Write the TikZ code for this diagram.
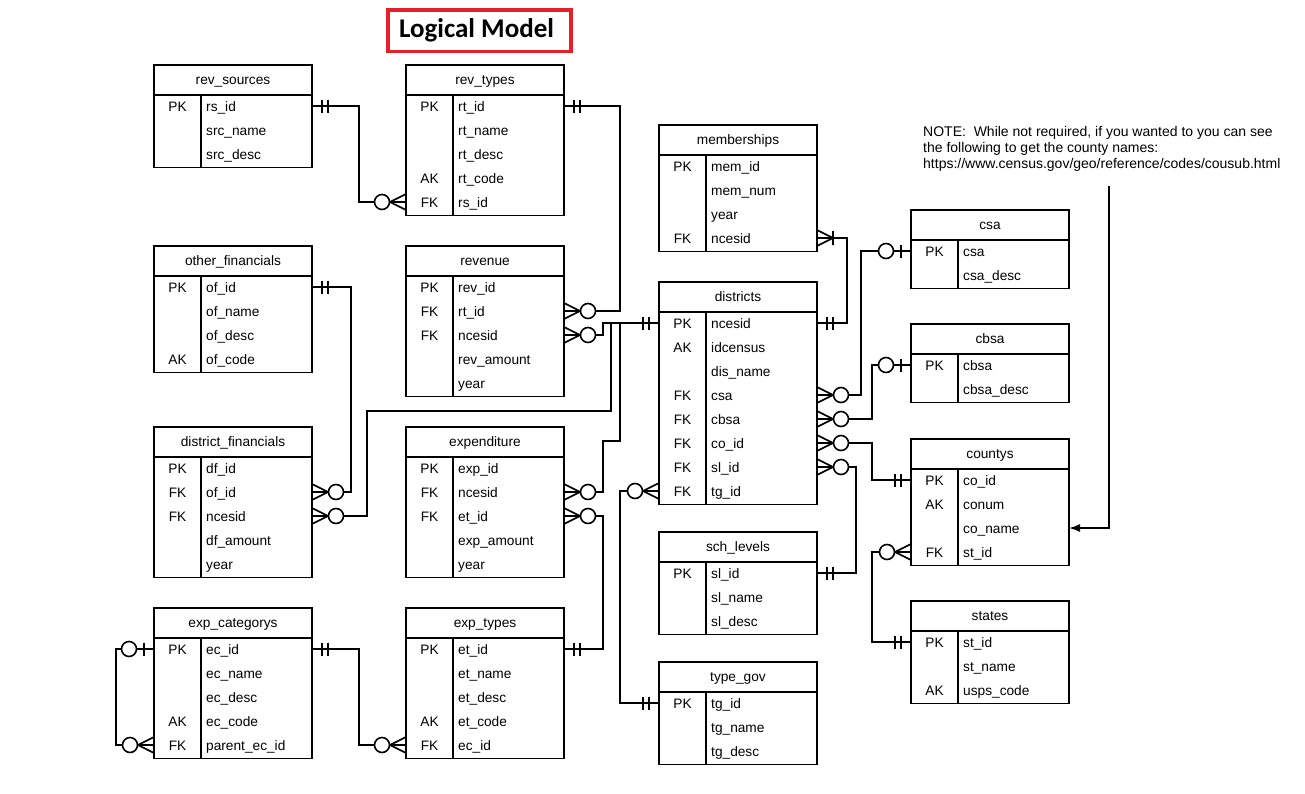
\documentclass[tikz,border=0pt]{standalone}
\usepackage{fontspec}
\setmainfont{Liberation Sans}
\newfontfamily\titlefont{Carlito}
\usetikzlibrary{arrows.meta}

\definecolor{titlered}{HTML}{E5202B}

\tikzset{
  tblline/.style={line width=1.6pt, line join=miter},
  link/.style={line width=1.6pt},
  tbltext/.style={inner sep=0pt, font=\fontsize{13.7}{16}\selectfont},
  entityhead/.style={tbltext, anchor=base},
  keycell/.style={tbltext, anchor=base},
  fieldcell/.style={tbltext, anchor=base west},
  notetext/.style={inner sep=0pt, align=left, font=\fontsize{14}{16}\selectfont},
}

% entity box: #1 id, #2 left x, #3 top y, #4 title, #5 key/field rows
\newcommand\entity[5]{%
  \node[entityhead] (#1) at (#2+79,#3+19.5) {#4};
  \foreach [count=\i] \k/\f in {#5} {
    \node[keycell] (#1-\i-k) at (#2+23.5,#3+22+24*\i) {\k};
    \node[fieldcell] (#1-\i-f) at (#2+52,#3+22+24*\i) {\f};
    \coordinate (#1-\i-w) at (#2,#3+17+24*\i);
    \coordinate (#1-\i-e) at (#2+158,#3+17+24*\i);
    \xdef\rowsn{\i}
  }
  \draw[tblline] (#2,#3) rectangle (#2+158,#3+30.5+24*\rowsn);
  \draw[tblline] (#2,#3+30) -- (#2+158,#3+30)
                 (#2+47,#3+30) -- (#2+47,#3+30.5+24*\rowsn);
}

% cardinality marks at a row end: #1 coordinate, #2 outward direction (1 or -1)
\newcommand\onlyone[2]{%
  \begin{scope}[shift={(#1)}, xscale=#2]
    \draw[link] (10,-6.5) -- (10,6.5) (16,-6.5) -- (16,6.5);
  \end{scope}}
\newcommand\zeromany[2]{%
  \begin{scope}[shift={(#1)}, xscale=#2]
    \draw[link] (0,-8) -- (16,0) -- (0,8) (0,0) -- (16,0);
    \draw[link, fill=white] (24,0) circle[radius=7.5pt];
  \end{scope}}
\newcommand\zeroone[2]{%
  \begin{scope}[shift={(#1)}, xscale=#2]
    \draw[link] (10,-6.5) -- (10,6.5);
    \draw[link, fill=white] (25,0) circle[radius=7.5pt];
  \end{scope}}
\newcommand\onemany[2]{%
  \begin{scope}[shift={(#1)}, xscale=#2]
    \draw[link] (0,-8) -- (16,0) -- (0,8) (0,0) -- (16,0) (16,-7) -- (16,7);
  \end{scope}}

\begin{document}
\begin{tikzpicture}[x=1pt, y=-1pt]
\useasboundingbox[fill=white] (0,0) rectangle (1305,793);

% title
\node[draw=titlered, line width=3.5pt, minimum width=183pt, minimum height=41.5pt,
      inner sep=0pt, font=\titlefont\bfseries\fontsize{27}{30}\selectfont]
      (title) at (479.5,30.5) {\hspace*{-6pt}Logical Model};

% entities
\entity{rsrc}{154}{65}{rev\_sources}{PK/rs\_id, /src\_name, /src\_desc}
\entity{rtyp}{406}{65}{rev\_types}{PK/rt\_id, /rt\_name, /rt\_desc, AK/rt\_code, FK/rs\_id}
\entity{ofin}{154}{246}{other\_financials}{PK/of\_id, /of\_name, /of\_desc, AK/of\_code}
\entity{rev}{406}{246}{revenue}{PK/rev\_id, FK/rt\_id, FK/ncesid, /rev\_amount, /year}
\entity{dfin}{154}{427}{district\_financials}{PK/df\_id, FK/of\_id, FK/ncesid, /df\_amount, /year}
\entity{expd}{406}{427}{expenditure}{PK/exp\_id, FK/ncesid, FK/et\_id, /exp\_amount, /year}
\entity{ecat}{154}{608}{exp\_categorys}{PK/ec\_id, /ec\_name, /ec\_desc, AK/ec\_code, FK/parent\_ec\_id}
\entity{etyp}{406}{608}{exp\_types}{PK/et\_id, /et\_name, /et\_desc, AK/et\_code, FK/ec\_id}
\entity{memb}{659}{125}{memberships}{PK/mem\_id, /mem\_num, /year, FK/ncesid}
\entity{dist}{659}{282}{districts}{PK/ncesid, AK/idcensus, /dis\_name, FK/csa, FK/cbsa, FK/co\_id, FK/sl\_id, FK/tg\_id}
\entity{csa}{911}{210}{csa}{PK/csa, /csa\_desc}
\entity{cbsa}{911}{324}{cbsa}{PK/cbsa, /cbsa\_desc}
\entity{cnty}{911}{439}{countys}{PK/co\_id, AK/conum, /co\_name, FK/st\_id}
\entity{schl}{659}{532}{sch\_levels}{PK/sl\_id, /sl\_name, /sl\_desc}
\entity{tgov}{659}{662}{type\_gov}{PK/tg\_id, /tg\_name, /tg\_desc}
\entity{stat}{911}{601}{states}{PK/st\_id, /st\_name, AK/usps\_code}

% relationships
\draw[link] (rsrc-1-e) -- ++(47,0) |- (rtyp-5-w);
\draw[link] (rtyp-1-e) -- ++(56,0) |- (rev-2-e);
\draw[link] (dist-1-w) -- ++(-56,0) |- (rev-3-e);
\draw[link] (dist-1-w) -| (611,411) -| (367,516) -- (dfin-3-e);
\draw[link] (dist-1-w) -| (620,441) -| (603,492) -- (expd-2-e);
\draw[link] (ofin-1-e) -- ++(39,0) |- (dfin-2-e);
\draw[link] (expd-3-e) -- ++(39,0) |- (etyp-1-e);
\draw[link] (ecat-1-e) -- ++(47,0) |- (etyp-5-w);
\draw[link] (ecat-1-w) -- ++(-38,0) |- (ecat-5-w);
\draw[link] (memb-4-e) -- ++(30,0) |- (dist-1-e);
\draw[link] (dist-4-e) -- ++(44,0) |- (csa-1-w);
\draw[link] (dist-5-e) -- ++(55,0) |- (cbsa-1-w);
\draw[link] (dist-6-e) -- ++(55,0) |- (cnty-1-w);
\draw[link] (dist-7-e) -- ++(39,0) |- (schl-1-e);
\draw[link] (dist-8-w) -- ++(-39,0) |- (tgov-1-w);
\draw[link] (cnty-4-w) -- ++(-39,0) |- (stat-1-w);

% cardinality marks
\onlyone{rsrc-1-e}{1}   \zeromany{rtyp-5-w}{-1}
\onlyone{rtyp-1-e}{1}   \zeromany{rev-2-e}{1}
\onlyone{dist-1-w}{-1}  \zeromany{rev-3-e}{1}
\zeromany{dfin-3-e}{1}  \zeromany{expd-2-e}{1}
\onlyone{ofin-1-e}{1}   \zeromany{dfin-2-e}{1}
\zeromany{expd-3-e}{1}  \onlyone{etyp-1-e}{1}
\onlyone{ecat-1-e}{1}   \zeromany{etyp-5-w}{-1}
\zeroone{ecat-1-w}{-1}  \zeromany{ecat-5-w}{-1}
\onemany{memb-4-e}{1}   \onlyone{dist-1-e}{1}
\zeromany{dist-4-e}{1}  \zeroone{csa-1-w}{-1}
\zeromany{dist-5-e}{1}  \zeroone{cbsa-1-w}{-1}
\zeromany{dist-6-e}{1}  \onlyone{cnty-1-w}{-1}
\zeromany{dist-7-e}{1}  \onlyone{schl-1-e}{1}
\zeromany{dist-8-w}{-1} \onlyone{tgov-1-w}{-1}
\zeromany{cnty-4-w}{-1} \onlyone{stat-1-w}{-1}

% note about county names
\node[notetext, anchor=north west] (note) at (923,126)
  {NOTE:\ \ While not required, if you wanted to you can see\\
   the following to get the county names:\\
   https://www.census.gov/geo/reference/codes/cousub.html};
\coordinate (notearrow) at (1109,186);
\draw[link, -{Latex[length=11pt,width=8pt]}] (notearrow) |- (cnty-3-e);
\end{tikzpicture}
\end{document}
